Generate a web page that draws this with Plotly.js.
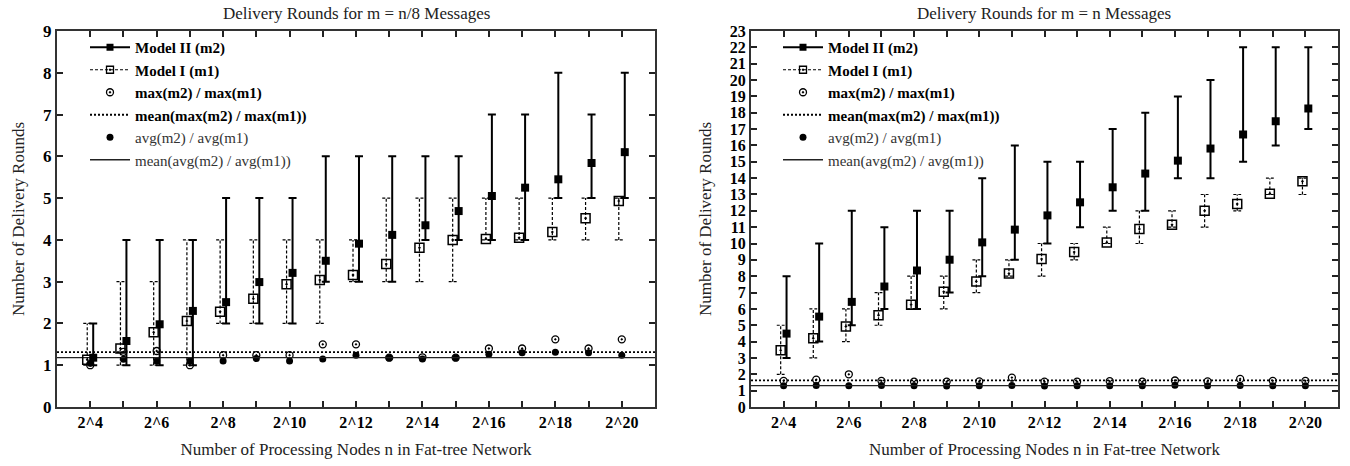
<!DOCTYPE html>
<html>
<head>
<meta charset="utf-8">
<script src="https://cdn.plot.ly/plotly-3.0.1.min.js"></script>
<style>html,body{margin:0;padding:0;background:#fff}#chart{width:1350px;height:466px}</style>
</head>
<body>
<div id="chart"></div>
<script>
// x positions are exponents: n = 2^exp
const exps = [4,5,6,7,8,9,10,11,12,13,14,15,16,17,18,19,20];
const tickLabels = ['2^4','','2^6','','2^8','','2^10','','2^12','','2^14','','2^16','','2^18','','2^20'];

// Left: m = n/8 messages
const m1L_avg = [1.13,1.40,1.79,2.06,2.28,2.59,2.94,3.04,3.16,3.42,3.81,4.00,4.02,4.05,4.19,4.52,4.93];
const m1L_min = [1,1,1,1,2,2,2,2,3,3,3,3,4,4,4,4,4];
const m1L_max = [2,3,3,4,4,4,4,4,4,5,5,5,5,5,5,5,5];
const m2L_avg = [1.18,1.58,1.98,2.30,2.51,2.99,3.21,3.50,3.91,4.12,4.35,4.69,5.05,5.25,5.45,5.84,6.10];
const m2L_min = [1,1,1,1,2,2,2,3,3,3,4,4,4,4,5,5,5];
const m2L_max = [2,4,4,4,5,5,5,6,6,6,6,6,7,7,8,7,8];
const maxRatioL = [1.00,1.32,1.34,1.00,1.24,1.24,1.24,1.50,1.50,1.18,1.19,1.18,1.40,1.40,1.62,1.40,1.62];
const avgRatioL = [1.05,1.14,1.10,1.10,1.10,1.16,1.10,1.15,1.24,1.18,1.15,1.18,1.26,1.30,1.31,1.30,1.24];

// Right: m = n messages
const m1R_avg = [3.47,4.20,4.92,5.62,6.25,7.05,7.68,8.17,9.05,9.48,10.06,10.89,11.15,12.00,12.42,13.05,13.81];
const m1R_min = [2,3,4,5,6,6,7,8,8,9,10,10,11,11,12,13,13];
const m1R_max = [5,6,6,7,8,8,9,9,10,10,11,12,12,13,13,14,14];
const m2R_avg = [4.49,5.53,6.43,7.37,8.35,9.01,10.07,10.85,11.72,12.52,13.44,14.28,15.07,15.81,16.67,17.48,18.26];
const m2R_min = [3,4,5,6,6,7,8,9,10,11,12,12,14,14,15,16,17];
const m2R_max = [8,10,12,11,12,12,14,16,15,15,17,18,19,20,22,22,22];
const maxRatioR = [1.60,1.67,2.00,1.60,1.55,1.55,1.57,1.80,1.55,1.55,1.58,1.55,1.62,1.57,1.72,1.60,1.60];
const avgRatioR = [1.30,1.32,1.30,1.32,1.30,1.28,1.30,1.32,1.28,1.30,1.30,1.30,1.33,1.30,1.32,1.30,1.30];

const FONT = '"Liberation Serif", "Times New Roman", Times, serif';
const OFF = 0.09, CAP = 0.12;
const mean = a => a.reduce((s, v) => s + v, 0) / a.length;

function whiskers(xs, lo, hi) {
  const x = [], y = [];
  xs.forEach((xi, i) => {
    x.push(xi, xi, null, xi - CAP, xi + CAP, null, xi - CAP, xi + CAP, null);
    y.push(lo[i], hi[i], null, lo[i], lo[i], null, hi[i], hi[i], null);
  });
  return {x, y};
}

function panel(xa, ya, lg, m1a, m1lo, m1hi, m2a, m2lo, m2hi, mr, ar) {
  const tr = [];
  const xm1 = exps.map(e => e - OFF), xm2 = exps.map(e => e + OFF);
  const w = whiskers(xm1, m1lo, m1hi);
  tr.push({x:[null], y:[null], xaxis:xa, yaxis:ya, legend:lg, mode:'lines+markers', name:'<b>Model II (m2)</b>',
    line:{color:'#000', width:2}, marker:{symbol:'square', size:7, color:'#000'}});
  tr.push({x:[null], y:[null], xaxis:xa, yaxis:ya, legend:lg, mode:'lines+markers', name:'<b>Model I (m1)</b>',
    line:{color:'#000', width:1.2, dash:'3px,2px'}, marker:{symbol:'square-open-dot', size:7, color:'#000', line:{width:1.3}}});
  tr.push({x:exps, y:mr, xaxis:xa, yaxis:ya, legend:lg, mode:'markers', name:'<b>max(m2) / max(m1)</b>',
    marker:{symbol:'circle-open-dot', size:7, color:'#000', line:{width:1.3}}});
  const mx = mean(mr), ma = mean(ar);
  tr.push({x:[3,21], y:[mx,mx], xaxis:xa, yaxis:ya, legend:lg, mode:'lines', name:'<b>mean(max(m2) / max(m1))</b>',
    line:{color:'#000', width:1.8, dash:'2px,2px'}});
  tr.push({x:exps, y:ar, xaxis:xa, yaxis:ya, legend:lg, mode:'markers', name:'<span style="color:#333">avg(m2) / avg(m1)</span>',
    marker:{symbol:'circle', size:7, color:'#000'}});
  tr.push({x:[3,21], y:[ma,ma], xaxis:xa, yaxis:ya, legend:lg, mode:'lines', name:'<span style="color:#333">mean(avg(m2) / avg(m1))</span>',
    line:{color:'#222', width:1.3}});
  tr.push({x:w.x, y:w.y, xaxis:xa, yaxis:ya, legend:lg, mode:'lines', showlegend:false, hoverinfo:'skip',
    line:{color:'#000', width:1.2, dash:'3px,2px'}});
  tr.push({x:xm1, y:m1a, xaxis:xa, yaxis:ya, legend:lg, mode:'markers', showlegend:false,
    marker:{symbol:'square-open-dot', size:9, color:'#000', line:{width:1.5}}});
  tr.push({x:xm2, y:m2a, xaxis:xa, yaxis:ya, legend:lg, mode:'markers', showlegend:false,
    marker:{symbol:'square', size:8, color:'#000'},
    error_y:{type:'data', symmetric:false, array:m2hi.map((v,i)=>v-m2a[i]), arrayminus:m2a.map((v,i)=>v-m2lo[i]),
      color:'#000', thickness:2, width:4}});
  return tr;
}

const data = [].concat(
  panel('x','y','legend', m1L_avg, m1L_min, m1L_max, m2L_avg, m2L_min, m2L_max, maxRatioL, avgRatioL),
  panel('x2','y2','legend2', m1R_avg, m1R_min, m1R_max, m2R_avg, m2R_min, m2R_max, maxRatioR, avgRatioR)
);

const xbase = {
  range:[3,21], tickmode:'array', tickvals:exps, ticktext:tickLabels,
  ticks:'inside', ticklen:6, tickwidth:2, tickcolor:'#222',
  showline:true, linewidth:2, linecolor:'#333', mirror:'ticks', showgrid:false, zeroline:false,
  tickfont:{family:FONT, size:16, color:'#000', weight:'bold'},
  title:{text:'Number of Processing Nodes n in Fat-tree Network', font:{family:FONT, size:17, color:'#222'}, standoff:13}
};
const ybase = {
  ticks:'inside', ticklen:6, tickwidth:2, tickcolor:'#222', dtick:1, tick0:0,
  showline:true, linewidth:2, linecolor:'#333', mirror:'ticks', showgrid:false, zeroline:false,
  tickfont:{family:FONT, size:17, color:'#000', weight:'bold'},
  title:{text:'Number of Delivery Rounds', font:{family:FONT, size:17, color:'#222'}, standoff:14}
};
const legBase = {xanchor:'left', yanchor:'top', bgcolor:'rgba(0,0,0,0)', borderwidth:0,
  font:{family:FONT, size:15, color:'#000'}, tracegroupgap:0, itemwidth:40};

const layout = {
  width:1350, height:466, paper_bgcolor:'#fff', plot_bgcolor:'#fff',
  margin:{l:0, r:0, t:31, b:59},
  showlegend:true,
  xaxis:Object.assign({}, xbase, {domain:[57/1350, 655/1350], anchor:'y'}),
  yaxis:Object.assign({}, ybase, {domain:[0,1], range:[0,9], anchor:'x'}),
  xaxis2:Object.assign({}, xbase, {domain:[751/1350, 1338/1350], anchor:'y2'}),
  yaxis2:Object.assign({}, ybase, {domain:[0,1], range:[0,23], anchor:'x2', tickfont:{family:FONT, size:16, color:'#000', weight:'bold'}}),
  legend:Object.assign({}, legBase, {x:85/1350, y:1.0}),
  legend2:Object.assign({}, legBase, {x:778/1350, y:1.0}),
  annotations:[
    {text:'Delivery Rounds for m = n/8 Messages', xref:'paper', yref:'paper', x:356/1350, y:1, yshift:18, showarrow:false,
      xanchor:'center', yanchor:'middle', font:{family:FONT, size:17, color:'#222'}},
    {text:'Delivery Rounds for m = n Messages', xref:'paper', yref:'paper', x:1044/1350, y:1, yshift:18, showarrow:false,
      xanchor:'center', yanchor:'middle', font:{family:FONT, size:17, color:'#222'}}
  ]
};

Plotly.newPlot('chart', data, layout, {displayModeBar:false, staticPlot:true});
</script>
</body>
</html>
